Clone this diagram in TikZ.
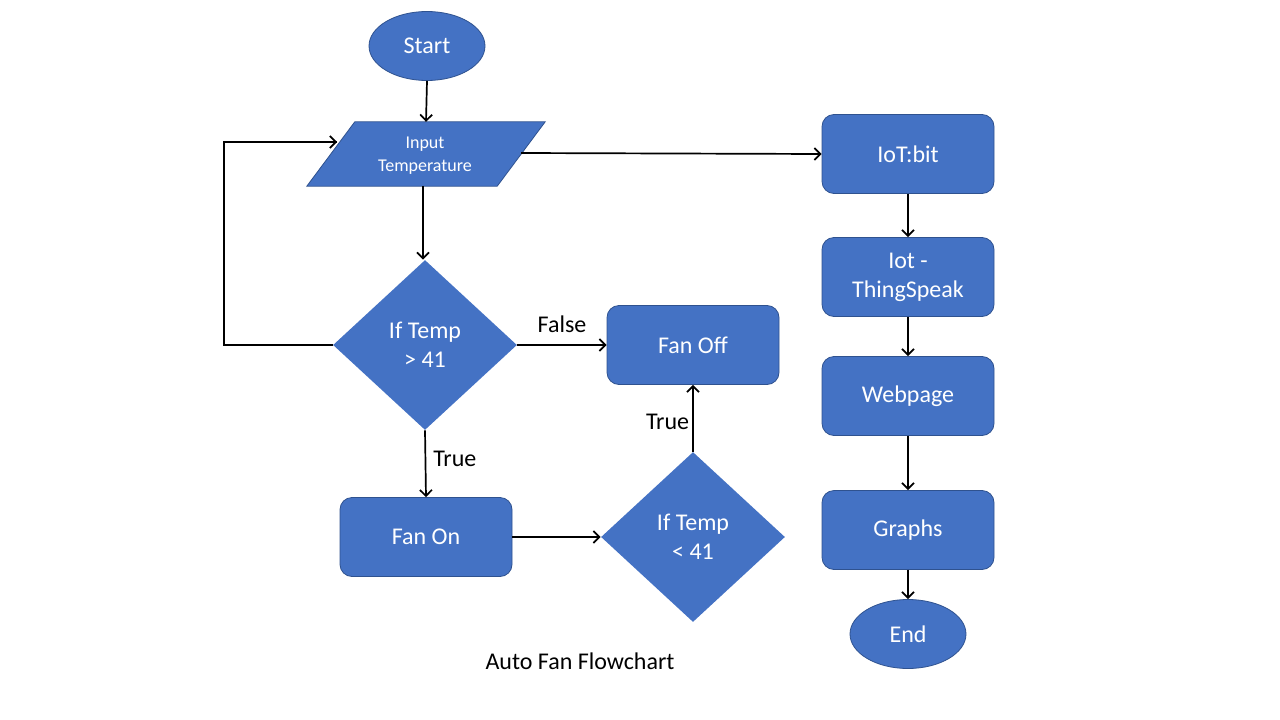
\documentclass[tikz,border=0pt]{standalone}
\usepackage{fontspec}
\setmainfont{Carlito}
\usetikzlibrary{shapes.geometric,arrows.meta,calc}
\definecolor{boxblue}{HTML}{4472C4}
\definecolor{edgeblue}{HTML}{2F528F}
\begin{document}
\begin{tikzpicture}[x=1pt,y=-1pt,
  every node/.style={font=\fontsize{24}{29}\selectfont},
  base/.style={fill=boxblue,draw=edgeblue,line width=0.8pt,text=white,align=center,inner sep=0pt},
  procbox/.style={base,rectangle,rounded corners=12pt,minimum width=172pt,minimum height=79pt},
  termbox/.style={base,ellipse,minimum width=116pt,minimum height=69pt},
  decbox/.style={base,diamond,minimum width=184pt,minimum height=170pt,draw=none},
  conn/.style={line width=1.7pt,-{Straight Barb[length=6pt,width=12pt,line width=1.7pt]}},
  plainline/.style={line width=1.7pt},
  lbl/.style={text=black,inner sep=0pt}
]
\useasboundingbox (0,0) rectangle (1280,720);
\node[termbox] (start) at (427,46) {Start};
\node[rectangle,minimum width=238pt,minimum height=64pt,inner sep=0pt] (inp) at (426,154) {};
\fill[boxblue,draw=edgeblue,line width=0.8pt] (inp.south west) -- ($(inp.south east)+(-48,0)$) -- (inp.north east) -- ($(inp.north west)+(48,0)$) -- cycle;
\node[text=white,align=center,font=\fontsize{18}{23}\selectfont] (inptext) at (425,156) {Input\\Temperature};
\node[decbox] (d1) at (425,345) {If Temp\\> 41};
\node[procbox] (fanoff) at (693,345) {Fan Off};
\node[procbox] (fanon) at (426,537) {Fan On};
\node[decbox] (d2) at (693,537) {If Temp\\< 41};
\node[procbox] (iot) at (908,154) {IoT:bit};
\node[procbox] (ts) at (908,277) {Iot -\\ThingSpeak};
\node[procbox] (web) at (908,396) {Webpage};
\node[procbox] (graphs) at (908,530) {Graphs};
\node[termbox] (endn) at (908,634) {End};
\node[lbl] (cap) at (580,661) {Auto Fan Flowchart};

\coordinate (inleft) at (337,142);
\coordinate (inright) at (521,153);
\coordinate (loopa) at (224,345);
\coordinate (loopb) at (224,142);

\draw[conn] (start.south) -- (inp.north);
\draw[conn] (inp.south -| 423,0) -- (d1.north -| 423,0);
\draw[plainline] (d1.west) -- (loopa) -- (loopb) -- (inleft);
\draw[conn] (loopb) -- (inleft);
\draw[conn] (inright) -- (iot.west);
\draw[conn] (d1.east) -- node[lbl,above=11pt] (lfalse) {False} (fanoff.west);
\draw[conn] (d1.south) -- node[lbl,right=7pt,pos=0.42] (ltrue1) {True} (fanon.north);
\draw[conn] (fanon.east) -- (d2.west);
\draw[conn] (d2.north) -- node[lbl,left=3pt,pos=0.45] (ltrue2) {True} (fanoff.south);
\draw[conn] (iot.south) -- (ts.north);
\draw[conn] (ts.south) -- (web.north);
\draw[conn] (web.south) -- (graphs.north);
\draw[conn] (graphs.south) -- (endn.north);
\end{tikzpicture}
\end{document}
